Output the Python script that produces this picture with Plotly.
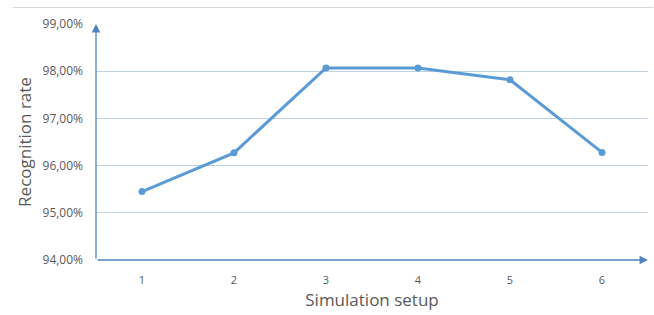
import plotly.graph_objects as go

setups = [1, 2, 3, 4, 5, 6]
rates = [95.45, 96.27, 98.07, 98.07, 97.82, 96.28]
y_ticks = [94, 95, 96, 97, 98, 99]
y_tick_labels = ["94,00%", "95,00%", "96,00%", "97,00%", "98,00%", "99,00%"]
x_tick_labels = ["1", "2", "3", "4", "5", "6"]

axis_col = "#4f81bd"
grid_col = "#bfd2e3"
txt_col = "#595959"

W, H = 654, 315
ML, MR, MT, MB = 96, 6, 24, 55
PW, PH = W - ML - MR, H - MT - MB

fig = go.Figure()
fig.add_trace(go.Scatter(
    x=setups, y=rates, mode="lines+markers",
    line=dict(color="#5b9bd5", width=3),
    marker=dict(size=7, color="#5b9bd5"),
    showlegend=False, hoverinfo="skip",
))

fig.update_layout(
    width=W, height=H,
    margin=dict(l=ML, r=MR, t=MT, b=MB, autoexpand=False),
    paper_bgcolor="white", plot_bgcolor="white",
    font=dict(family="Open Sans, DejaVu Sans, sans-serif", color=txt_col),
    xaxis=dict(
        range=[0.5, 6.5], tickvals=setups, ticktext=x_tick_labels,
        showgrid=False, zeroline=False, showline=False, automargin=False,
        ticks="", tickfont=dict(size=11, color=txt_col), ticklabelstandoff=12,
        title=dict(text="Simulation setup", font=dict(size=17, color=txt_col), standoff=8),
    ),
    yaxis=dict(
        range=[94, 99], tickvals=y_ticks, ticktext=y_tick_labels, automargin=False,
        showgrid=True, gridcolor=grid_col, gridwidth=1,
        zeroline=False, showline=False, ticks="",
        tickfont=dict(size=12, color=txt_col), ticklabelstandoff=12,
        title=dict(text="Recognition rate", font=dict(size=17, color=txt_col), standoff=6),
    ),
)

# top border line of chart area
fig.add_shape(type="line", xref="paper", yref="paper", x0=-0.15, x1=1.01, y0=1.07, y1=1.07,
              line=dict(color="#d9d9d9", width=1))

# axis arrows
fig.add_annotation(xref="x domain", yref="y domain", x=0, y=1.0, ax=0, ay=PH,
                   axref="pixel", ayref="pixel", showarrow=True, text="",
                   arrowhead=2, arrowsize=1.3, arrowwidth=1.3, arrowcolor=axis_col)
fig.add_annotation(xref="x domain", yref="y domain", x=1.0, y=0, ax=-PW, ay=0,
                   axref="pixel", ayref="pixel", showarrow=True, text="",
                   arrowhead=2, arrowsize=1.3, arrowwidth=1.3, arrowcolor=axis_col)

fig.write_html("out.html", config={"displayModeBar": False},
               post_script="document.body.style.margin='0';document.body.style.overflow='hidden';")
